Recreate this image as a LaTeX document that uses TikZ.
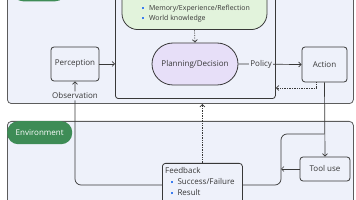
\documentclass[tikz,border=0pt]{standalone}
\usepackage{fontspec}
\setmainfont{Open Sans}
\usepackage{tikz}
\usetikzlibrary{arrows.meta}
\definecolor{panelfill}{HTML}{EEF1FA}
\definecolor{panelline}{HTML}{5C5C5C}
\definecolor{memfill}{HTML}{E2F3DC}
\definecolor{planfill}{HTML}{E7DFF8}
\definecolor{tagfill}{HTML}{3E8C56}
\definecolor{bulletblue}{HTML}{3C7DF0}
\definecolor{inkgray}{HTML}{383838}
\newcommand{\blt}{\textcolor{bulletblue}{\rule[1.5pt]{1.8pt}{1.8pt}}\hspace{5pt}}

\begin{document}
\begin{tikzpicture}[x=1pt,y=-1pt,
  font=\fontsize{8}{9}\selectfont, text=inkgray,
  panel/.style={draw=panelline,fill=panelfill,line width=0.8pt,rounded corners=4pt,inner sep=0pt},
  box/.style={draw=inkgray,fill=panelfill,line width=0.8pt,rounded corners=3pt,inner sep=0pt},
  link/.style={draw=inkgray,line width=0.7pt,-{Straight Barb[length=2.5pt,width=5pt]}},
  hint/.style={link,densely dotted},
  tag/.style={fill=tagfill,text=white,rounded corners=11pt,inner sep=0pt}]
\clip (0,0) rectangle (356,200);
% agent side:
\node[panel,minimum width=346pt,minimum height=144pt,anchor=south west] (agent) at (7,104) {};
\node[tag,minimum width=54pt,minimum height=22pt,anchor=south west] (agenttag) at (12,1.5) {};
\node[box,minimum width=160pt,minimum height=140pt,anchor=south west] (brain) at (115,99) {};
\node[box,fill=memfill,rounded corners=16pt,minimum width=145pt,minimum height=70pt,anchor=south] (mem) at (194.5,30) {};
\node[anchor=north west,align=left,inner sep=0pt,font=\fontsize{7}{10}\selectfont] (memlist) at (142,-4.5)
  {\blt State\\\blt Memory/Experience/Reflection\\\blt World knowledge};
\node[draw=inkgray,fill=planfill,line width=0.8pt,rounded corners=21pt,minimum width=86pt,minimum height=42pt] (plan) at (195,64) {Planning/Decision};
\node[box,minimum width=48pt,minimum height=34pt] (perc) at (75,64) {Perception};
\node[box,minimum width=45pt,minimum height=35pt] (act) at (324.5,64.5) {Action};
% environment side:
\node[panel,minimum width=346pt,minimum height=100pt,anchor=north west] (env) at (7,121) {};
\node[tag,minimum width=65pt,minimum height=23pt,anchor=north west] (envtag) at (7,121) {Environment};
\node[box,minimum width=50pt,minimum height=24pt] (tool) at (325,169) {Tool use};
\node[box,minimum width=80pt,minimum height=50pt,anchor=north west] (fb) at (162,163) {};
\node[anchor=north west,align=left,inner sep=0pt,font=\fontsize{8}{11}\selectfont] (fblist) at (165,167.5)
  {Feedback\\\hspace{5.5pt}\blt Success/Failure\\\hspace{5.5pt}\blt Result};
% connectors:
\coordinate (ret) at (0,88);
\coordinate (bend) at (281,134);
\draw[hint] (mem.south) -- (plan.north);
\draw[link] (perc.east) -- (perc.east -| brain.west);
\draw[link] (plan.east) -- node[pos=0.36,fill=panelfill,inner sep=1pt] {Policy} (act.west);
\draw[hint] ([xshift=-8.5pt]act.south) |- (brain.east |- ret);
\draw[link] (act.south) -- (tool.north);
\draw[draw=inkgray,line width=0.7pt,rounded corners=6pt] (act.south |- bend) -- (bend) |- ([yshift=-22pt]fb.north east);
\draw[link] (tool.west) -- (tool.west -| bend);
\draw[link,rounded corners=6pt] ([yshift=-22pt]fb.north west) -| node[pos=0.93,fill=panelfill,inner sep=1.5pt] {Observation} (perc.south);
\draw[hint] (fb.north) -- (fb.north |- agent.south);
\end{tikzpicture}
\end{document}
